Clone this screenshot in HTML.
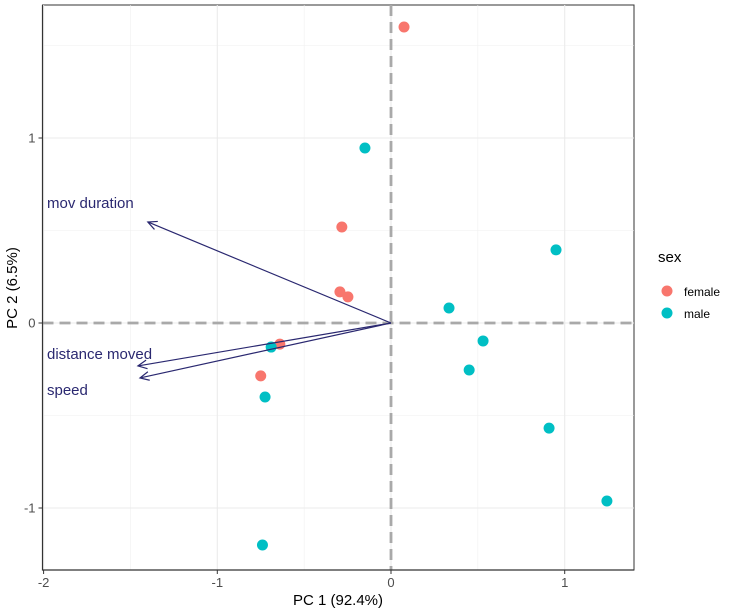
<!DOCTYPE html>
<html><head><meta charset="utf-8"><style>body{margin:0;background:#fff}svg{display:block;font-family:"Liberation Sans",sans-serif}</style></head>
<body>
<svg id="c" width="740" height="614"></svg>
<script>
const femaleX=[0.075,-0.283,-0.294,-0.248,-0.64,-0.75];
const femaleY=[1.6,0.519,0.168,0.141,-0.114,-0.286];
const maleX=[-0.15,0.95,0.334,0.53,0.45,0.91,1.243,-0.69,-0.725,-0.74];
const maleY=[0.946,0.395,0.081,-0.097,-0.254,-0.568,-0.962,-0.13,-0.4,-1.2];
const loadNames=["mov duration","distance moved","speed"];
const loadX=[-1.4,-1.457,-1.445];
const loadY=[0.546,-0.232,-0.297];
const xTicks=[-2,-1,0,1];
const yTicks=[-1,0,1];
const L=42.5,R=634,T=5,B=570;
const sx=v=>391+v*173.7, sy=v=>323-v*185;
const svg=document.getElementById('c');const NS='http://www.w3.org/2000/svg';
function mk(t,a,txt){const e=document.createElementNS(NS,t);for(const k in a)e.setAttribute(k,a[k]);if(txt!==undefined)e.textContent=txt;svg.appendChild(e);return e;}
let e;
e=mk('rect',{x:L,y:T,width:R-L,height:B-T,fill:'#fff',stroke:'#333','stroke-width':1});


for(let v=-1.5;v<=1.5;v+=1){const y=sy(v);if(y<T||y>B)continue;e=mk('line',{x1:L,x2:R,y1:y,y2:y,stroke:'#f0f0f0','stroke-width':0.6});}
for(let v=-1.5;v<=1.5;v+=1){const x=sx(v);if(x<L||x>R)continue;e=mk('line',{y1:T,y2:B,x1:x,x2:x,stroke:'#f0f0f0','stroke-width':0.6});}
xTicks.forEach(v=>{e=mk('line',{y1:T,y2:B,x1:sx(v),x2:sx(v),stroke:'#ebebeb','stroke-width':1.1});
 e=mk('line',{y1:B,y2:B+4,x1:sx(v),x2:sx(v),stroke:'#333'});
 e=mk('text',{x:sx(v),y:B+17,'text-anchor':'middle','font-size':13,fill:'#4d4d4d'},v);});
yTicks.forEach(v=>{e=mk('line',{x1:L,x2:R,y1:sy(v),y2:sy(v),stroke:'#ebebeb','stroke-width':1.1});
 e=mk('line',{x1:L-4,x2:L,y1:sy(v),y2:sy(v),stroke:'#333'});
 e=mk('text',{x:L-7,y:sy(v)+4.5,'text-anchor':'end','font-size':13,fill:'#4d4d4d'},v);});
e=mk('line',{x1:sx(0),x2:sx(0),y1:T,y2:B,stroke:'#a9a9a9','stroke-width':2.8,'stroke-dasharray':'11,6'});
e=mk('line',{x1:L,x2:R,y1:sy(0),y2:sy(0),stroke:'#a9a9a9','stroke-width':2.8,'stroke-dasharray':'11,6'});
e=mk('path',{d:`M${L} ${T}V${B}H${R}`,fill:'none',stroke:'#333','stroke-width':1.2});
femaleX.forEach((v,i)=>{e=mk('circle',{cx:sx(v),cy:sy(femaleY[i]),r:5.5,fill:'#f8766d'});});
maleX.forEach((v,i)=>{e=mk('circle',{cx:sx(v),cy:sy(maleY[i]),r:5.5,fill:'#00bfc4'});});
const lblY=[203,354,390];
loadX.forEach((v,i)=>{const x2=sx(v),y2=sy(loadY[i]),x1=sx(0),y1=sy(0);
 const a=Math.atan2(y1-y2,x1-x2),h=10;
 const p1=[x2+h*Math.cos(a+0.45),y2+h*Math.sin(a+0.45)],p2=[x2+h*Math.cos(a-0.45),y2+h*Math.sin(a-0.45)];
 e=mk('path',{d:`M${x1} ${y1}L${x2} ${y2}M${p1[0]} ${p1[1]}L${x2} ${y2}L${p2[0]} ${p2[1]}`,fill:'none',stroke:'#2a2870','stroke-width':1.2});
 e=mk('text',{x:47,y:lblY[i]+5,'font-size':15,fill:'#2a2870'},loadNames[i]);});
e=mk('text',{x:338,y:605,'text-anchor':'middle','font-size':15,fill:'#000'},'PC 1 (92.4%)');
e=mk('text',{x:0,y:0,'text-anchor':'middle','font-size':15,fill:'#000',transform:'translate(17,288) rotate(-90)'},'PC 2 (6.5%)');
e=mk('text',{x:658,y:262,'font-size':15,fill:'#000'},'sex');
e=mk('circle',{cx:667,cy:291,r:5.5,fill:'#f8766d'});
e=mk('text',{x:684,y:296,'font-size':12,fill:'#000'},'female');
e=mk('circle',{cx:667,cy:313,r:5.5,fill:'#00bfc4'});
e=mk('text',{x:684,y:318,'font-size':12,fill:'#000'},'male');
</script>
</body></html>
